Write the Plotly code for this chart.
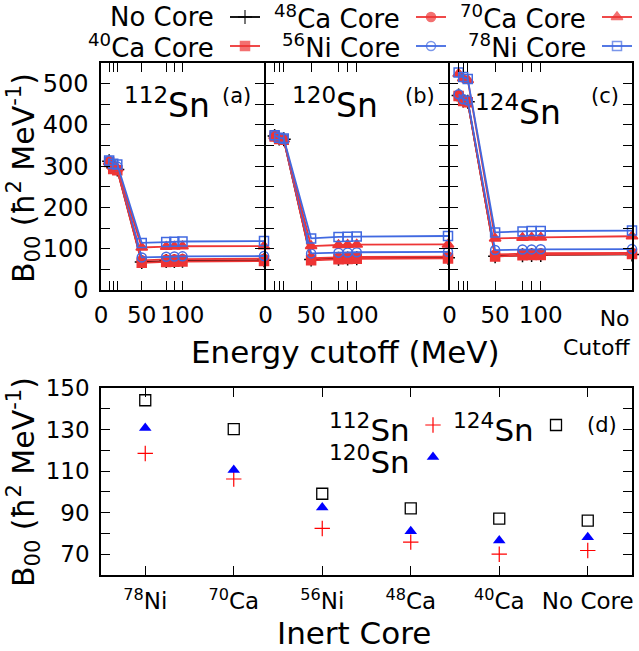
import plotly.graph_objects as go

W, H = 639, 651

# ---------------- data ----------------
# energy cutoffs (MeV); 200 stands for "No Cutoff"
cutoff_x = [10, 15, 20, 50, 80, 90, 100, 200]
cutoff_ticks = [0, 10, 15, 20, 50, 80, 90, 100]
cutoff_ticktext = ["0", "", "", "", "50", "", "", "100"]

# 112Sn
sn112_nocore = [312, 296, 292, 68, 70, 70.5, 71, 71.8]
sn112_ca40 = [310, 293, 290, 66, 68, 68.5, 69, 70.0]
sn112_ca48 = [311, 296, 292, 72, 74, 74.5, 75, 75.8]
sn112_ni56 = [313, 302, 299, 79, 80.5, 81, 81.5, 82.4]
sn112_ca70 = [311, 299, 295, 103, 105, 105.5, 106, 106.2]
sn112_ni78 = [314, 306, 304, 114, 116, 117, 117.5, 118.5]

# 120Sn
sn120_nocore = [373, 367, 365, 74, 76, 76.5, 77, 78.2]
sn120_ca40 = [372, 366, 364, 72, 74.5, 75, 75.5, 76.6]
sn120_ca48 = [373, 367, 365, 77, 79, 79.5, 80, 81.1]
sn120_ni56 = [374, 368, 366, 88.7, 90.5, 91, 91.5, 92.5]
sn120_ca70 = [373, 367, 365, 106.5, 109, 109.5, 110, 110.5]
sn120_ni78 = [375, 369, 367, 125, 128.5, 129, 129.5, 130.8]

# 124Sn
sn124_nocore = [471, 459, 456, 82, 84, 84.5, 85, 86.2]
sn124_ca40 = [470, 458, 455, 81, 84, 84.5, 85, 87.0]
sn124_ca48 = [472, 460, 457, 86, 88, 88.5, 89, 90.0]
sn124_ni56 = [474, 462, 459, 96.8, 98, 98.4, 98.6, 99.1]
sn124_ca70 = [524, 513, 509, 125, 126.5, 127, 127.5, 130.2]
sn124_ni78 = [527, 516, 511, 139.6, 142, 142.7, 143, 144.1]

# panel (d): B00 without cutoff vs inert core
core_labels = ["<sup>78</sup>Ni", "<sup>70</sup>Ca", "<sup>56</sup>Ni",
               "<sup>48</sup>Ca", "<sup>40</sup>Ca", "No Core"]
b00_sn112 = [118.5, 106.2, 82.4, 75.8, 70.0, 71.8]
b00_sn120 = [130.8, 110.5, 92.5, 81.1, 76.6, 78.2]
b00_sn124 = [144.1, 130.2, 99.1, 92.1, 87.1, 86.2]

y_ticks_top = list(range(0, 551, 50))
y_ticktext_top = [str(v) if v % 100 == 0 else "" for v in y_ticks_top]
y_ticks_d = list(range(60, 151, 10))
y_ticktext_d = [str(v) if v % 20 == 10 else "" for v in y_ticks_d]

# ---------------- styles ----------------
RED = "#EE3535"
BLUE = "#4169E1"
FONT = "DejaVu Sans"

core_styles = {
    "nocore": dict(name="No Core", color="black", symbol="cross-thin", size=10),
    "ca40": dict(name="<sup>40</sup>Ca Core", color=RED, symbol="square", size=9),
    "ca48": dict(name="<sup>48</sup>Ca Core", color=RED, symbol="circle", size=9),
    "ni56": dict(name="<sup>56</sup>Ni Core", color=BLUE, symbol="circle-open", size=9),
    "ca70": dict(name="<sup>70</sup>Ca Core", color=RED, symbol="triangle-up", size=10),
    "ni78": dict(name="<sup>78</sup>Ni Core", color=BLUE, symbol="square-open", size=9),
}
draw_order = ["nocore", "ca40", "ca48", "ni56", "ca70", "ni78"]

panels = [
    ("x", "y", dict(nocore=sn112_nocore, ca40=sn112_ca40, ca48=sn112_ca48,
                    ni56=sn112_ni56, ca70=sn112_ca70, ni78=sn112_ni78)),
    ("x2", "y2", dict(nocore=sn120_nocore, ca40=sn120_ca40, ca48=sn120_ca48,
                      ni56=sn120_ni56, ca70=sn120_ca70, ni78=sn120_ni78)),
    ("x3", "y3", dict(nocore=sn124_nocore, ca40=sn124_ca40, ca48=sn124_ca48,
                      ni56=sn124_ni56, ca70=sn124_ca70, ni78=sn124_ni78)),
]

fig = go.Figure()

for xa, ya, series in panels:
    for key in draw_order:
        st = core_styles[key]
        fig.add_trace(go.Scatter(
            x=cutoff_x, y=series[key], xaxis=xa, yaxis=ya,
            mode="lines+markers", cliponaxis=False, showlegend=False,
            line=dict(color=st["color"], width=1.8),
            marker=dict(symbol=st["symbol"], size=st["size"], color=st["color"],
                        line=dict(color=st["color"], width=1.5)),
        ))

# panel (d)
d_series = [
    (b00_sn112, dict(symbol="cross-thin", size=11, color="red", line=dict(color="red", width=1.2))),
    (b00_sn120, dict(symbol="triangle-up", size=11, color="blue", line=dict(width=0))),
    (b00_sn124, dict(symbol="square-open", size=11, color="black", line=dict(color="black", width=1.3))),
]
for vals, mk in d_series:
    fig.add_trace(go.Scatter(x=core_labels, y=vals, xaxis="x4", yaxis="y4",
                             mode="markers", marker=mk, showlegend=False, cliponaxis=False))

# ---------------- legend (drawn manually: text then sample) ----------------
leg_rows = {"nocore": (216, 17), "ca48": (402, 17), "ca70": (588, 17),
            "ca40": (216, 46), "ni56": (402, 46), "ni78": (588, 46)}
annotations = []
for key, (xr, yc) in leg_rows.items():
    st = core_styles[key]
    x0, xm, x1 = xr + 14, xr + 29, xr + 44
    fig.add_trace(go.Scatter(
        x=[x0, xm, x1], y=[yc, yc, yc], xaxis="x5", yaxis="y5", mode="lines+markers",
        showlegend=False, hoverinfo="skip",
        line=dict(color=st["color"], width=1.8),
        marker=dict(symbol=st["symbol"], size=[0, st["size"], 0], color=st["color"],
                    line=dict(color=st["color"], width=1.5)),
    ))
    annotations.append(dict(text=st["name"], x=xr / W, y=1 - yc / H, xref="paper", yref="paper",
                            xanchor="right", yanchor="middle", showarrow=False,
                            font=dict(size=26, family=FONT, color="black")))

# panel (d) legend
d_leg = [("<sup>112</sup>Sn", 369, 428, 433, d_series[0][1]),
         ("<sup>120</sup>Sn", 369, 460, 433, d_series[1][1]),
         ("<sup>124</sup>Sn", 494, 428, 556, d_series[2][1])]
for txt, xt, yc, xm, mk in d_leg:
    fig.add_trace(go.Scatter(x=[xm], y=[yc - 3], xaxis="x5", yaxis="y5", mode="markers",
                             marker=mk, showlegend=False, hoverinfo="skip"))
    annotations.append(dict(text=txt, x=xt / W, y=1 - yc / H, xref="paper", yref="paper",
                            xanchor="center", yanchor="middle", showarrow=False,
                            font=dict(size=31, family=FONT, color="black")))

# panel labels
for txt, xc, yc, size in [("<sup>112</sup>Sn", 167, 103, 33), ("<sup>120</sup>Sn", 335, 103, 33),
                          ("<sup>124</sup>Sn", 518, 110, 33),
                          ("(a)", 236, 96, 21), ("(b)", 420, 96, 21), ("(c)", 605, 96, 21),
                          ("(d)", 602, 425, 21)]:
    annotations.append(dict(text=txt, x=xc / W, y=1 - yc / H, xref="paper", yref="paper",
                            xanchor="center", yanchor="middle", showarrow=False,
                            font=dict(size=size, family=FONT, color="black")))

# axis titles
annotations += [
    dict(text="Energy cutoff (MeV)", x=345 / W, y=1 - 352 / H, xref="paper", yref="paper",
         showarrow=False, xanchor="center", yanchor="middle", font=dict(size=31, family=FONT)),
    dict(text="Inert Core", x=354 / W, y=1 - 633 / H, xref="paper", yref="paper",
         showarrow=False, xanchor="center", yanchor="middle", font=dict(size=31, family=FONT)),
    dict(text="B<sub>00</sub> (ħ<sup>2</sup> MeV<sup>-1</sup>)", x=23 / W, y=1 - 178 / H,
         xref="paper", yref="paper", textangle=-90, showarrow=False,
         xanchor="center", yanchor="middle", font=dict(size=30, family=FONT)),
    dict(text="B<sub>00</sub> (ħ<sup>2</sup> MeV<sup>-1</sup>)", x=23 / W, y=1 - 482 / H,
         xref="paper", yref="paper", textangle=-90, showarrow=False,
         xanchor="center", yanchor="middle", font=dict(size=30, family=FONT)),
    dict(text="No<br>Cutoff", x=200, xref="x3", y=1 - 333 / H, yref="paper", align="right",
         showarrow=False, xanchor="right", yanchor="middle", font=dict(size=22, family=FONT)),
]

# ---------------- axes ----------------
TOP_Y = [1 - 290 / H, 1 - 63 / H]
LW = 1.5
common = dict(showline=True, linecolor="black", linewidth=LW, mirror="ticks",
              ticks="inside", ticklen=9, tickwidth=1, tickcolor="black",
              showgrid=False, zeroline=False,
              tickfont=dict(size=23, family=FONT, color="black"))

x_dom = [[101 / W, 264 / W], [(264 + LW) / W, 448 / W], [(448 + LW) / W, 632 / W]]
layout = dict(
    width=W, height=H, margin=dict(l=0, r=0, t=0, b=0, autoexpand=False),
    paper_bgcolor="white", plot_bgcolor="rgba(0,0,0,0)",
    showlegend=False, annotations=annotations,
    font=dict(family=FONT, color="black"),
)
for i, (xn, yn) in enumerate([("xaxis", "yaxis"), ("xaxis2", "yaxis2"), ("xaxis3", "yaxis3")]):
    layout[xn] = dict(common, domain=x_dom[i], range=[0, 200], tickmode="array",
                      tickvals=cutoff_ticks, ticktext=cutoff_ticktext,
                      anchor=("y" if i == 0 else f"y{i+1}"), ticklabelstandoff=4)
    layout[yn] = dict(common, domain=TOP_Y, range=[0, 550], tickmode="array",
                      tickvals=y_ticks_top, ticktext=y_ticktext_top,
                      showticklabels=(i == 0), ticklabelstandoff=6,
                      tickfont=dict(size=24, family=FONT, color="black"),
                      anchor=("x" if i == 0 else f"x{i+1}"))

layout["xaxis4"] = dict(common, domain=[101 / W, 632 / W], range=[-0.5, 5.5], type="category",
                        anchor="y4", ticklabelstandoff=5)
layout["yaxis4"] = dict(common, domain=[1 - 575 / H, 1 - 388 / H], range=[60, 150],
                        tickmode="array", tickvals=y_ticks_d, ticktext=y_ticktext_d,
                        anchor="x4", ticklabelstandoff=5)
layout["xaxis5"] = dict(domain=[0, 1], range=[0, W], visible=False, anchor="y5")
layout["yaxis5"] = dict(domain=[0, 1], range=[H, 0], visible=False, anchor="x5")

fig.update_layout(**layout)
fig.write_html("out.html")
